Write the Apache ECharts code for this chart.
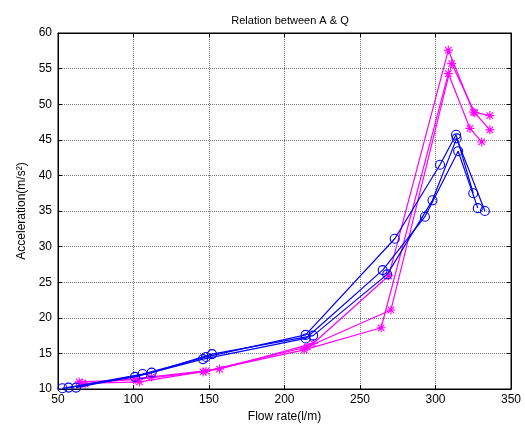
<!DOCTYPE html>
<html><head><meta charset="utf-8">
<script src="https://cdn.jsdelivr.net/npm/echarts@6/dist/echarts.min.js"></script>
<style>html,body{margin:0;padding:0;background:#fff}#c{width:525px;height:431px}</style>
</head><body><div id="c"></div>
<script>
var title = 'Relation between A & Q';
var xName = 'Flow rate(l/m)';
var yName = 'Acceleration(m/s²)';
var xTicks = [50, 100, 150, 200, 250, 300, 350];
var yTicks = [10, 15, 20, 25, 30, 35, 40, 45, 50, 55, 60];

var blue1X = [53, 101, 146, 214, 265, 293, 315, 328];
var blue1Y = [10.1, 11.7, 14.2, 17.1, 26.7, 34.2, 43.4, 35.4];
var blue2X = [57, 106, 148, 214, 273, 303, 313.6, 325];
var blue2Y = [10.2, 12.1, 14.5, 17.6, 31.1, 41.5, 45.7, 37.5];
var blue3X = [62, 112, 152, 219, 268, 298, 314, 332.7];
var blue3Y = [10.2, 12.3, 14.9, 17.5, 26.1, 36.5, 45.2, 35.0];

var mag1X = [64, 101, 146, 213, 264, 308.5, 322.8, 330.6];
var mag1Y = [11.0, 11.3, 12.4, 15.5, 18.6, 54.3, 46.6, 44.7];
var mag2X = [66, 104, 148, 215, 270.5, 310.7, 326, 336];
var mag2Y = [10.8, 11.0, 12.5, 15.9, 21.1, 55.7, 48.8, 46.4];
var mag3X = [68, 112, 157, 219, 269, 308.5, 325, 336];
var mag3Y = [10.7, 11.7, 12.8, 16.4, 25.9, 57.6, 48.9, 48.4];

function pairs(xs, ys){ return xs.map(function(x,i){ return [x, ys[i]]; }); }
var star = 'path://M0,-5L0,5M-5,0L5,0M-3.6,-3.6L3.6,3.6M-3.6,3.6L3.6,-3.6';
function blueS(xs, ys){
  return {type:'line', data:pairs(xs,ys), symbol:'circle', symbolSize:9, showAllSymbol:true,
    lineStyle:{color:'#0000ff', width:1.2}, itemStyle:{color:'rgba(0,0,0,0)', borderColor:'#0000ff', borderWidth:1.1},
    animation:false, z:3};
}
function magS(xs, ys){
  return {type:'line', data:pairs(xs,ys), symbol:star, symbolSize:9, showAllSymbol:true,
    lineStyle:{color:'#ff00ff', width:1.2}, itemStyle:{color:'rgba(0,0,0,0)', borderColor:'#ff00ff', borderWidth:1.1},
    animation:false, z:2};
}
var font = 'Liberation Sans';
var gridLine = {show:true, lineStyle:{color:'#777', type:[1,1], width:1}};
var chart = echarts.init(document.getElementById('c'), null, {renderer:'canvas'});
chart.setOption({
  animation:false,
  title:{text:title, left:285, top:10, textAlign:'center', textStyle:{fontFamily:font, fontSize:11, fontWeight:'normal', color:'#000'}},
  grid:{left:58, right:14, top:33, bottom:42, show:true, borderColor:'#000', borderWidth:1, backgroundColor:'#fff'},
  xAxis:[{type:'value', min:xTicks[0], max:xTicks[xTicks.length-1], interval:50,
    name:xName, nameLocation:'middle', nameGap:22, nameTextStyle:{fontFamily:font, fontSize:12, color:'#000'},
    axisLine:{show:true, lineStyle:{color:'#000'}}, axisTick:{inside:true, length:4, lineStyle:{color:'#000'}},
    axisLabel:{fontFamily:font, fontSize:12, color:'#000', margin:5}, splitLine:gridLine},
    {type:'value', position:'top', min:xTicks[0], max:xTicks[xTicks.length-1], interval:50,
    axisLine:{show:true, lineStyle:{color:'#000'}}, axisTick:{inside:true, length:4, lineStyle:{color:'#000'}},
    axisLabel:{show:false}, splitLine:{show:false}}],
  yAxis:[{type:'value', min:yTicks[0], max:yTicks[yTicks.length-1], interval:5,
    name:yName, nameLocation:'middle', nameGap:30, nameTextStyle:{fontFamily:font, fontSize:12, color:'#000'},
    axisLine:{show:true, lineStyle:{color:'#000'}}, axisTick:{inside:true, length:4, lineStyle:{color:'#000'}},
    axisLabel:{fontFamily:font, fontSize:12, color:'#000', margin:6}, splitLine:gridLine},
    {type:'value', position:'right', min:yTicks[0], max:yTicks[yTicks.length-1], interval:5,
    axisLine:{show:true, lineStyle:{color:'#000'}}, axisTick:{inside:true, length:4, lineStyle:{color:'#000'}},
    axisLabel:{show:false}, splitLine:{show:false}}],
  series:[blueS(blue1X,blue1Y), blueS(blue2X,blue2Y), blueS(blue3X,blue3Y),
          magS(mag1X,mag1Y), magS(mag2X,mag2Y), magS(mag3X,mag3Y)]
});
</script></body></html>
